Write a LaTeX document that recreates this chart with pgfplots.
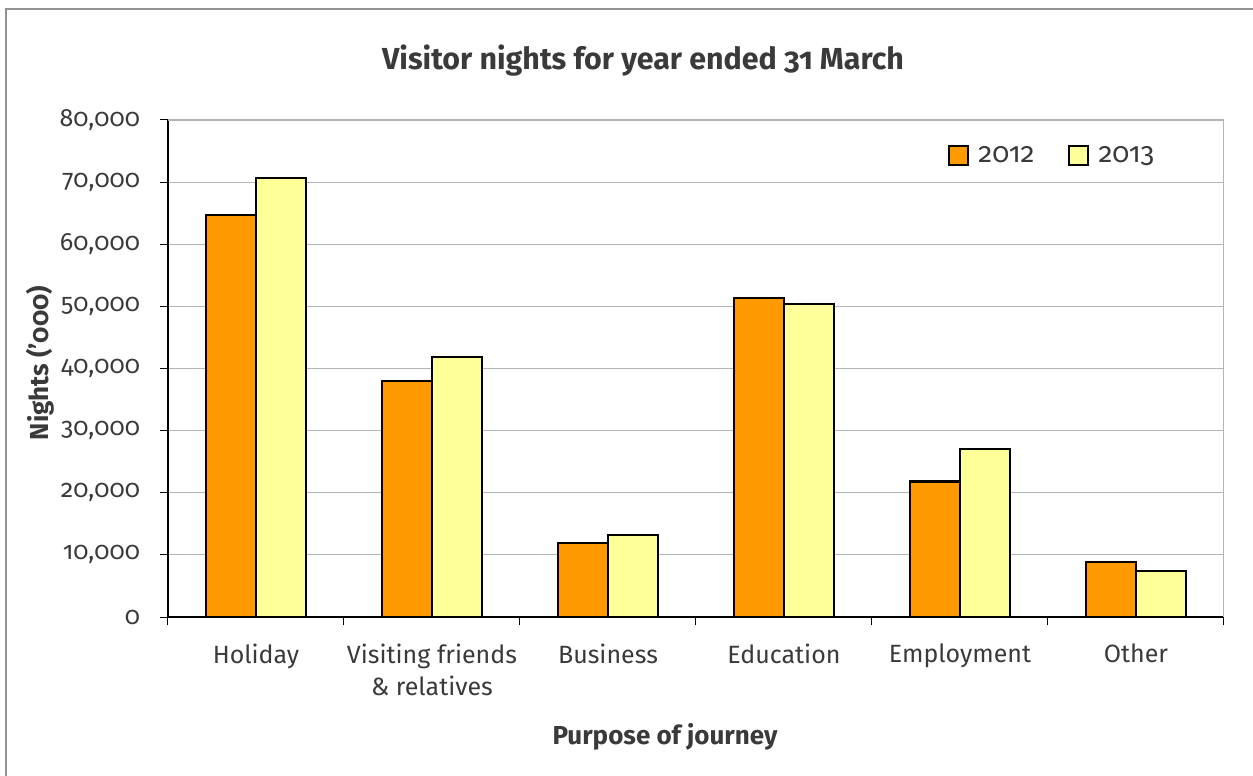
\documentclass[border=0pt]{standalone}
\usepackage{fontspec}
\setmainfont{Fira Sans}[Numbers=OldStyle]
\usepackage{pgfplots}
\pgfplotsset{compat=1.18}
\definecolor{barA}{HTML}{FF9900}
\definecolor{barB}{HTML}{FFFF99}
\definecolor{txt}{HTML}{3A3A3A}
\definecolor{gridc}{HTML}{B4B4B4}
\begin{document}
\begin{tikzpicture}
\useasboundingbox (-84pt,-79.5pt) rectangle (542.5pt,308.5pt);
\draw[color=gray!85, line width=1pt] (-81pt,-80pt) -- (-81pt,304pt) -- (543pt,304pt);
\begin{axis}[
  at={(0,0)}, anchor=south west,
  scale only axis, width=528pt, height=248.5pt,
  ybar=0pt, bar width=25pt,
  xmin=-0.5, xmax=5.5, ymin=0, ymax=80000,
  xtick={0,1,2,3,4,5},
  xticklabels={Holiday, Visiting friends\\\& relatives, Business, Education, Employment, Other},
  major x tick style={draw=none},
  extra x ticks={-0.5,0.5,1.5,2.5,3.5,4.5,5.5},
  extra x tick labels={},
  extra x tick style={major x tick style={draw=black, line width=0.5pt}, xmajorgrids=false},
  ytick={0,10000,...,80000},
  ymajorgrids, grid style={gridc, line width=0.6pt},
  tick align=outside, xtick pos=bottom, ytick pos=left,
  major tick length=4pt,
  y tick style={black, line width=0.5pt},
  axis line style={black, line width=0.7pt},
  axis x line*=bottom, axis y line*=left,
  /pgf/number format/.cd, 1000 sep={,}, assume math mode=true,
  /pgfplots/.cd,
  scaled y ticks=false,
  ticklabel style={font=\fontsize{12.5}{16}\selectfont, text=txt},
  xticklabel style={align=center, anchor=north, yshift=-6pt},
  yticklabel style={xshift=-6.5pt},
  legend style={at={(rel axis cs:0.7386,0.9276)}, anchor=west, draw=none, fill=none,
    font=\fontsize{14}{16}\selectfont, text=txt, inner sep=0pt,
    /tikz/every even column/.append style={column sep=15pt}},
  legend columns=2,
  legend image code/.code={\draw[#1, line width=1pt] (0pt,-4.75pt) rectangle (9.5pt,4.75pt); \path (12pt,0pt);},
  every axis plot/.append style={draw=black, line width=1.1pt},
]
\draw[gridc, line width=0.8pt] (rel axis cs:0,1) -- (rel axis cs:1,1) -- (rel axis cs:1,0);
\addplot[fill=barA] coordinates {(0,64700) (1,38000) (2,11900) (3,51400) (4,21800) (5,8800)};
\addplot[fill=barB] coordinates {(0,70600) (1,41900) (2,13200) (3,50400) (4,27100) (5,7400)};
\legend{2012,2013}
\end{axis}
\node[font=\bfseries\fontsize{15.2}{17}\selectfont, text=txt] at (237.5pt,278pt) {Visitor nights for year ended 31 March};
\node[font=\bfseries\fontsize{13}{15}\selectfont, text=txt, rotate=90] at (-64pt,127pt) {Nights ('000)};
\node[font=\bfseries\fontsize{13}{15}\selectfont, text=txt] at (248.5pt,-60pt) {Purpose of journey};
\end{tikzpicture}
\end{document}
